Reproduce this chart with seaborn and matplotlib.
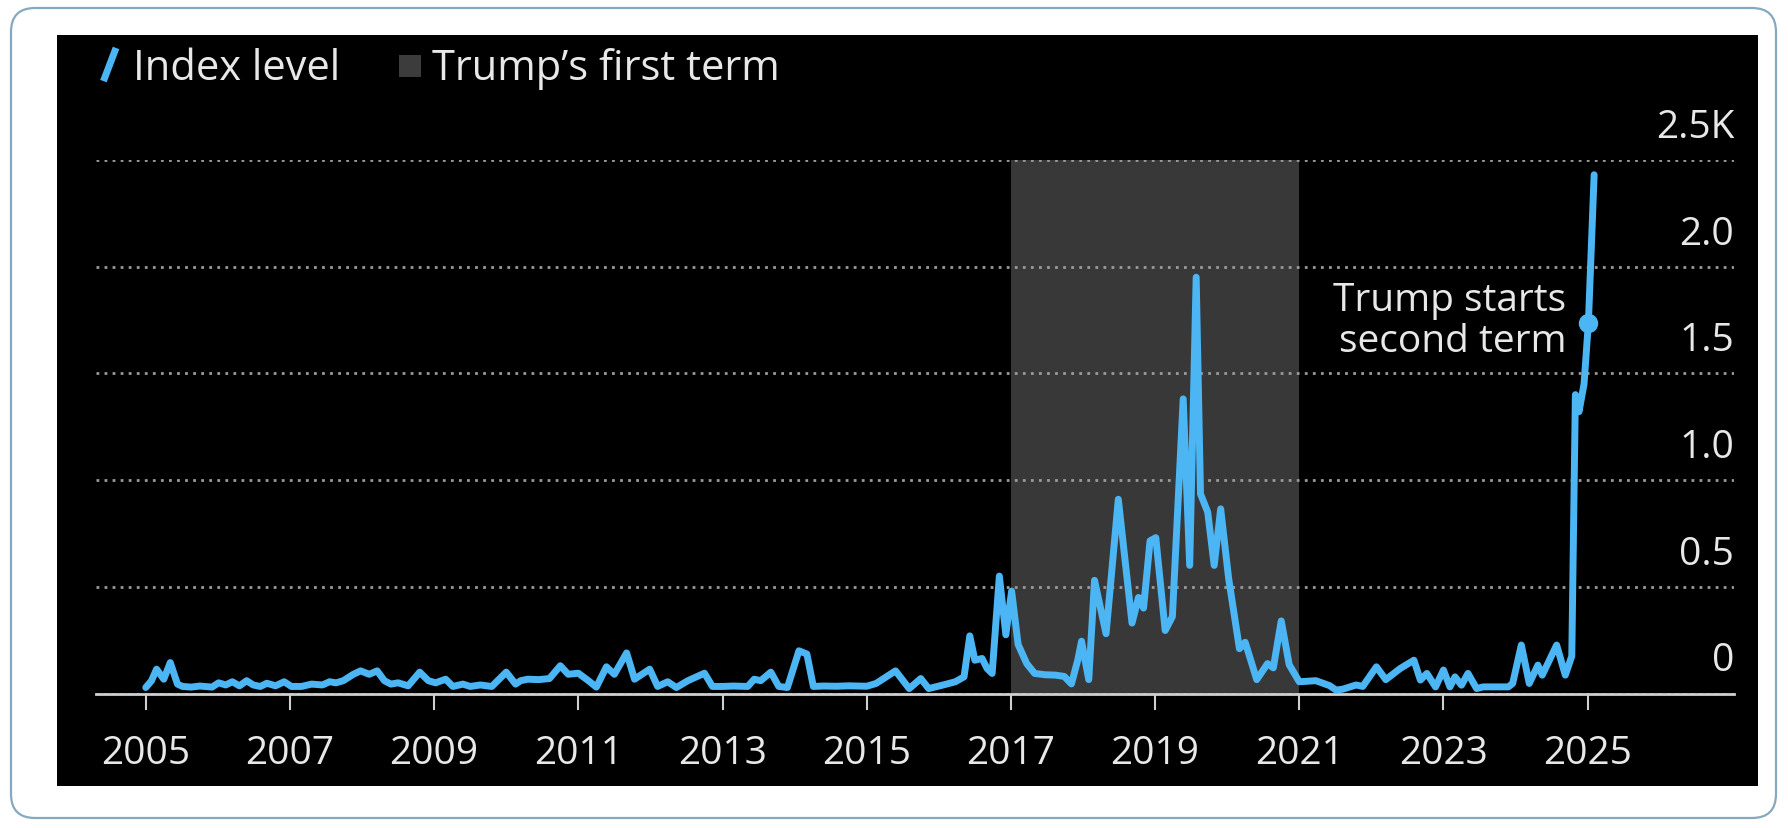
import matplotlib
matplotlib.use("Agg")
import matplotlib.pyplot as plt
import seaborn as sns
import pandas as pd
from matplotlib.patches import FancyBboxPatch, Rectangle
from matplotlib.lines import Line2D
from matplotlib.legend_handler import HandlerBase, HandlerPatch

# ---------------- data ----------------
years = [
    2005.00, 2005.08, 2005.15, 2005.25, 2005.34, 2005.44, 2005.51, 2005.63, 2005.75, 2005.92,
    2006.01, 2006.11, 2006.20, 2006.30, 2006.40, 2006.49, 2006.59, 2006.68, 2006.80, 2006.92,
    2007.02, 2007.16, 2007.30, 2007.45, 2007.55, 2007.64, 2007.74, 2007.88, 2007.98, 2008.10,
    2008.21, 2008.31, 2008.40, 2008.50, 2008.64, 2008.80, 2008.92, 2009.02, 2009.16, 2009.26,
    2009.40, 2009.50, 2009.64, 2009.80, 2010.00, 2010.13, 2010.20, 2010.30, 2010.45, 2010.60,
    2010.75, 2010.86, 2011.00, 2011.14, 2011.25, 2011.39, 2011.50, 2011.67, 2011.78, 2011.99,
    2012.10, 2012.24, 2012.36, 2012.52, 2012.75, 2012.86, 2013.00, 2013.15, 2013.35, 2013.44,
    2013.53, 2013.67, 2013.78, 2013.90, 2014.06, 2014.17, 2014.26, 2014.40, 2014.58, 2014.75,
    2015.00, 2015.13, 2015.40, 2015.59, 2015.75, 2015.86, 2016.05, 2016.23, 2016.35, 2016.43,
    2016.50, 2016.60, 2016.67, 2016.74, 2016.84, 2016.93, 2017.01, 2017.10, 2017.22, 2017.33,
    2017.47, 2017.62, 2017.74, 2017.84, 2017.93, 2017.98, 2018.08, 2018.16, 2018.32, 2018.49,
    2018.68, 2018.77, 2018.84, 2018.93, 2019.01, 2019.14, 2019.24, 2019.39, 2019.48, 2019.57,
    2019.63, 2019.73, 2019.82, 2019.91, 2020.02, 2020.17, 2020.25, 2020.41, 2020.56, 2020.64,
    2020.75, 2020.86, 2021.00, 2021.23, 2021.42, 2021.51, 2021.60, 2021.79, 2021.88, 2022.07,
    2022.20, 2022.40, 2022.59, 2022.68, 2022.77, 2022.89, 2023.00, 2023.09, 2023.16, 2023.25,
    2023.34, 2023.46, 2023.55, 2023.70, 2023.90, 2023.96, 2024.08, 2024.19, 2024.31, 2024.37,
    2024.57, 2024.69, 2024.78, 2024.83, 2024.88, 2024.95, 2025.01, 2025.09,
]
index_level = [
    28, 60, 114, 67, 145, 44, 33, 30, 35, 30,
    50, 40, 55, 36, 60, 40, 33, 48, 36, 55,
    33, 33, 44, 40, 55, 50, 60, 90, 106, 90,
    106, 60, 44, 50, 36, 100, 60, 50, 67, 33,
    44, 33, 40, 33, 100, 44, 60, 67, 65, 70,
    130, 90, 95, 60, 30, 125, 90, 190, 67, 114,
    33, 55, 28, 60, 95, 33, 33, 35, 33, 67,
    60, 100, 33, 28, 200, 185, 33, 35, 34, 36,
    34, 47, 106, 23, 70, 23, 39, 55, 78, 270,
    156, 164, 117, 94, 550, 275, 480, 230, 140, 94,
    88, 86, 80, 45, 160, 245, 65, 530, 280, 910,
    330, 450, 400, 715, 730, 295, 360, 1380, 600, 1950,
    935, 850, 600, 865, 540, 210, 240, 65, 140, 120,
    340, 135, 55, 60, 37, 16, 20, 40, 33, 125,
    65, 117, 156, 63, 94, 31, 110, 31, 78, 39,
    94, 23, 31, 31, 31, 47, 227, 47, 133, 86,
    227, 86, 175, 1400, 1320, 1450, 1735, 2430,
]
first_term = [2017.0, 2021.0]
second_term_year = [2025.01]
second_term_value = [1735]

x_ticks = [2005, 2007, 2009, 2011, 2013, 2015, 2017, 2019, 2021, 2023, 2025]
x_tick_labels = [str(t) for t in x_ticks]
y_ticks = [0, 500, 1000, 1500, 2000, 2500]
y_tick_labels = ["0", "0.5", "1.0", "1.5", "2.0", "2.5K"]

legend_labels = ["Index level", "Trump\u2019s first term"]
annotation_text = "Trump starts\nsecond term"

# ---------------- style ----------------
BLUE = "#4bb6f3"
SHADE = "#383838"
TXT = "#e8e8e8"
AXIS = "#cfcfcf"
GRID = "#9a9a9a"

sns.set_theme(style="dark")
plt.rcParams["font.family"] = ["Open Sans", "DejaVu Sans"]

W, H = 1788, 829
fig = plt.figure(figsize=(W / 100, H / 100), dpi=100, facecolor="white")


def fx(px):
    return px / W


def fy(py):
    return 1 - py / H


# outer rounded card
card = FancyBboxPatch((11 / 100, (H - 819) / 100), (1776 - 11) / 100, (819 - 9) / 100,
                      boxstyle="round,pad=0,rounding_size=0.24",
                      transform=fig.dpi_scale_trans, fc="white", ec="#86a9bf", lw=1.6,
                      zorder=-3)
fig.add_artist(card)
# black chart panel
panel = Rectangle((57 / 100, (H - 787) / 100), (1758 - 57) / 100, (787 - 36) / 100,
                  transform=fig.dpi_scale_trans, fc="black", ec="none", zorder=-2)
fig.add_artist(panel)

ax = fig.add_axes([fx(96), fy(694.5), fx(1734) - fx(96), (694.5 - 160.8) / H])
ax.patch.set_visible(False)

df = pd.DataFrame({"year": years, "value": index_level})

ax.axvspan(first_term[0], first_term[1], color=SHADE, lw=0, zorder=0.5)

sns.lineplot(data=df, x="year", y="value", ax=ax, color=BLUE, lw=5,
             solid_capstyle="round", solid_joinstyle="round", clip_on=False, zorder=3)
ax.plot(second_term_year, second_term_value, "o", ms=13, color=BLUE, zorder=4, clip_on=False)

ax.set_xlim(2004.31, 2027.03)
ax.set_ylim(0, 2500)
ax.set_xlabel("")
ax.set_ylabel("")

ax.set_xticks(x_ticks)
ax.set_xticklabels(x_tick_labels)
ax.set_yticks(y_ticks)
ax.set_yticklabels([])
ax.tick_params(axis="x", length=11.5, width=1.5, color=AXIS, pad=18, labelsize=28,
               labelcolor=TXT, direction="out", bottom=True)
ax.tick_params(axis="y", length=0)

ax.yaxis.grid(True, color=GRID, linestyle=(0, (1.0, 1.9)), linewidth=2.0, zorder=1)
ax.xaxis.grid(False)
for s in ["top", "left", "right"]:
    ax.spines[s].set_visible(False)
ax.spines["bottom"].set_color(AXIS)
ax.spines["bottom"].set_linewidth(2)
ax.spines["bottom"].set_zorder(2.5)

for v, lab in zip(y_ticks, y_tick_labels):
    ax.annotate(lab, xy=(1, v), xycoords=("axes fraction", "data"), xytext=(0, 23),
                textcoords="offset pixels", ha="right", va="baseline", fontsize=28,
                color=TXT, annotation_clip=False)

ax.annotate(annotation_text, xy=(second_term_year[0], second_term_value[0]),
            xytext=(-22, 3), textcoords="offset pixels", ha="right", va="center",
            multialignment="right", fontsize=28, color=TXT, linespacing=1.1,
            annotation_clip=False)


# ---------------- legend ----------------
class SlashHandler(HandlerBase):
    def create_artists(self, legend, orig_handle, xdescent, ydescent, width, height,
                       fontsize, trans):
        x0, y0 = -xdescent, -ydescent
        ln = Line2D([x0 + 0.15 * width, x0 + 0.7 * width],
                    [y0 - 0.02 * height, y0 + 1.02 * height],
                    color=orig_handle.get_color(), lw=orig_handle.get_linewidth(),
                    solid_capstyle="butt", transform=trans)
        return [ln]


def square_patch(legend, orig_handle, xdescent, ydescent, width, height, fontsize):
    s = 0.68 * height
    return Rectangle((-xdescent + 0.02 * width, -ydescent + 0.12 * height), s, s)


h_line = Line2D([], [], color=BLUE, lw=5)
h_shade = Rectangle((0, 0), 1, 1, fc="#3c3c3c", ec="none")
fig.legend([h_line, h_shade], legend_labels, loc="upper left",
           bbox_to_anchor=(fx(100), fy(48)), ncol=2, frameon=False, fontsize=30,
           handlelength=0.55, handleheight=0.8, handletextpad=0.25, columnspacing=1.4,
           borderpad=0, borderaxespad=0, labelcolor=TXT,
           handler_map={Line2D: SlashHandler(), Rectangle: HandlerPatch(patch_func=square_patch)})

fig.savefig("out.png", dpi=100, facecolor="white")
